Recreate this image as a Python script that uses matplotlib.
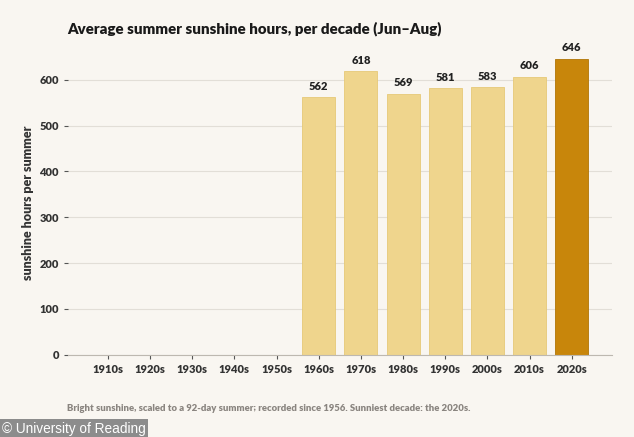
import matplotlib.pyplot as plt
import numpy as np

decades = ['1910s', '1920s', '1930s', '1940s', '1950s', '1960s',
           '1970s', '1980s', '1990s', '2000s', '2010s', '2020s']
hours = [np.nan, np.nan, np.nan, np.nan, np.nan, 562, 618, 569, 581, 583, 606, 646]
highlight = '2020s'

bg = '#f9f6f1'
plt.rcParams['font.family'] = ['Lato', 'DejaVu Sans']

fig = plt.figure(figsize=(6.34, 4.37), dpi=100, facecolor=bg)
ax = fig.add_axes([0.107, 0.188, 0.858, 0.698], facecolor=bg)

x = np.arange(len(decades))
colors = ['#c8860b' if d == highlight else '#efd58d' for d in decades]
edges = ['#b07506' if d == highlight else '#e6c978' for d in decades]
heights = [0 if np.isnan(v) else v for v in hours]
ax.bar(x, heights, width=0.78, color=colors, edgecolor=edges, linewidth=0.6, zorder=2)

for xi, v in zip(x, hours):
    if not np.isnan(v):
        ax.text(xi, v + 12, f'{int(v)}', ha='center', va='bottom',
                fontsize=8, fontweight='heavy', color='#222222')

ax.set_xlim(-0.95, 11.95)
ax.set_ylim(0, 665)
ax.set_yticks(range(0, 700, 100))
ax.set_xticks(x)
ax.set_xticklabels(decades)
ax.yaxis.grid(True, color='#e2ded7', linewidth=0.8, zorder=0)
ax.set_axisbelow(True)
for s in ['top', 'right', 'left']:
    ax.spines[s].set_visible(False)
ax.spines['bottom'].set_color('#bdb8b0')
ax.tick_params(axis='both', colors='#555555', labelcolor='#333333', labelsize=8, length=3)
for lab in ax.get_xticklabels() + ax.get_yticklabels():
    lab.set_fontweight('heavy')
ax.set_ylabel('sunshine hours per summer', fontsize=9, fontweight='heavy', color='#333333', labelpad=4)

fig.text(0.106, 0.935, 'Average summer sunshine hours, per decade (Jun\u2013Aug)',
         fontsize=10.8, fontweight='heavy', color='#1a1a1a', ha='left', va='center')
fig.text(0.106, 0.066, 'Bright sunshine, scaled to a 92-day summer; recorded since 1956. Sunniest decade: the 2020s.',
         fontsize=6.8, fontweight='heavy', color='#8a8580', ha='left', va='center')
fig.text(0.003, 0.018, '\u00a9 University of Reading', fontsize=9.8, color='white',
         ha='left', va='center', family=['Liberation Sans', 'DejaVu Sans'],
         bbox=dict(boxstyle='square,pad=0.2', facecolor='#8c8c8c', edgecolor='none'))

fig.savefig('out.png', dpi=100, facecolor=bg)
